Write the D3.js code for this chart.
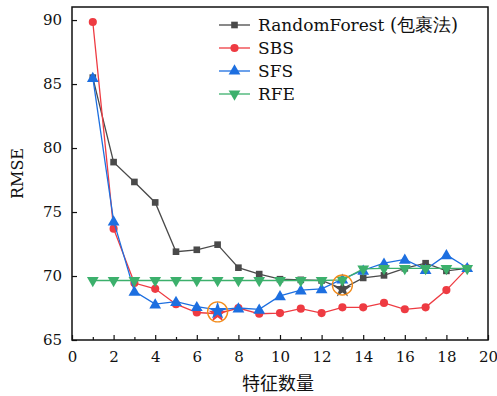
<!DOCTYPE html>
<html>
<head>
<meta charset="utf-8">
<script src="https://cdn.jsdelivr.net/npm/d3@7"></script>
<style>
  body { margin: 0; background: #fff; }
</style>
</head>
<body>
<svg id="chart" width="497" height="396"></svg>
<script>
// feature counts on the x axis
const features = d3.range(1, 20);

const randomForest = [85.5, 78.9, 77.35, 75.75, 71.9, 72.05, 72.45, 70.65, 70.15, 69.75, 69.7, 69.65, 69.0, 69.85, 70.05, 70.6, 71.0, 70.4, 70.6];
const sbs = [89.85, 73.7, 69.45, 69.0, 67.8, 67.15, 67.05, 67.5, 67.05, 67.1, 67.45, 67.1, 67.55, 67.55, 67.9, 67.4, 67.55, 68.9, 70.6];
const sfs = [85.5, 74.3, 68.8, 67.8, 68.0, 67.6, 67.35, 67.5, 67.4, 68.45, 68.9, 69.0, 69.75, 70.45, 71.0, 71.3, 70.5, 71.65, 70.65];
const rfe = [69.65, 69.65, 69.65, 69.65, 69.65, 69.65, 69.65, 69.65, 69.65, 69.65, 69.65, 69.65, 69.7, 70.55, 70.6, 70.6, 70.6, 70.6, 70.6];

const seriesNames = ["RandomForest", "SBS", "SFS", "RFE"];
const seriesNotes = [" (包裹法)", "", "", ""];
const seriesColors = ["#4a4a4a", "#ee3b42", "#1d6fe0", "#3cb06c"];
const seriesShapes = [d3.symbolSquare, d3.symbolCircle, d3.symbolTriangle, "down"];
const seriesData = [randomForest, sbs, sfs, rfe];

// best points marked with a star and an orange ring: [series index, feature count]
const bestPoints = [[1, 7], [2, 7], [0, 13]];

const xTicks = d3.range(0, 21, 2);
const yTicks = [65, 70, 75, 80, 85, 90];

const serif = "'DejaVu Serif', 'Liberation Serif', serif";
const cjk = "'Noto Sans CJK SC', sans-serif";

const svg = d3.select("#chart");
const m = { left: 72, top: 7, right: 488, bottom: 340 };

const x = d3.scaleLinear().domain([0, 20]).range([m.left, m.right]);
const y = d3.scaleLinear().domain([65, 91.02]).range([m.bottom, m.top]);

// axes, ticks inward
const xAxis = d3.axisBottom(x).tickValues(xTicks).tickSize(-5).tickPadding(11).tickFormat(d3.format("d"));
const gx = svg.append("g").attr("transform", `translate(0,${m.bottom})`).call(xAxis);
svg.append("g").attr("transform", `translate(0,${m.bottom})`)
  .call(d3.axisBottom(x).tickValues(d3.range(1, 20, 2)).tickSize(-3).tickFormat(""))
  .select(".domain").remove();

const yAxis = d3.axisLeft(y).tickValues(yTicks).tickSize(-5).tickPadding(10);
const gy = svg.append("g").attr("transform", `translate(${m.left},0)`).call(yAxis);

[gx, gy].forEach(g => {
  g.select(".domain").remove();
  g.selectAll("text").style("font-family", serif).style("font-size", "15px").attr("fill", "#111");
});
svg.selectAll(".tick line").attr("stroke", "#111").attr("stroke-width", 1.2);

svg.append("rect")
  .attr("x", m.left).attr("y", m.top)
  .attr("width", m.right - m.left).attr("height", m.bottom - m.top)
  .attr("fill", "none").attr("stroke", "#111").attr("stroke-width", 1.5);

function symbolPath(shape, size) {
  if (shape === "down") {
    return d3.symbol(d3.symbolTriangle, size)().toString();
  }
  return d3.symbol(shape, size)();
}
const symSize = [44, 52, 60, 60];

const line = d3.line().x((d, i) => x(features[i])).y(d => y(d));

seriesData.forEach((vals, s) => {
  const g = svg.append("g");
  g.append("path").datum(vals)
    .attr("d", line).attr("fill", "none")
    .attr("stroke", seriesColors[s]).attr("stroke-width", 1.3);
  g.selectAll("path.mk").data(vals).join("path")
    .attr("class", "mk")
    .attr("d", (d, i) => {
      const isBest = bestPoints.some(b => b[0] === s && b[1] === features[i]);
      return isBest ? d3.symbol(d3.symbolStar, 100)() : symbolPath(seriesShapes[s], symSize[s]);
    })
    .attr("transform", (d, i) => `translate(${x(features[i])},${y(d) + (s === 2 ? 1 : 0)})` + (seriesShapes[s] === "down" ? " rotate(180)" : ""))
    .attr("fill", seriesColors[s]);
});

// orange rings around the optimal points
svg.selectAll("circle.ring").data([[7, 67.2], [13, 69.3]]).join("circle")
  .attr("class", "ring")
  .attr("cx", d => x(d[0])).attr("cy", d => y(d[1]))
  .attr("r", 10).attr("fill", "none")
  .attr("stroke", "#f28c1c").attr("stroke-width", 1.4);

// legend
const legend = svg.append("g");
seriesNames.forEach((name, s) => {
  const ly = 25 + s * 23;
  legend.append("line").attr("x1", 219).attr("x2", 250).attr("y1", ly).attr("y2", ly)
    .attr("stroke", seriesColors[s]).attr("stroke-width", 1.3);
  legend.append("path")
    .attr("d", symbolPath(seriesShapes[s], symSize[s]))
    .attr("transform", `translate(234.5,${ly})` + (seriesShapes[s] === "down" ? " rotate(180)" : ""))
    .attr("fill", seriesColors[s]);
  const t = legend.append("text").attr("x", 258).attr("y", ly + 6)
    .style("font-family", serif).style("font-size", "17px").attr("fill", "#111");
  t.append("tspan").text(name);
  if (seriesNotes[s]) {
    t.append("tspan").style("font-size", "18px").text(seriesNotes[s]);
  }
});

// axis titles
svg.append("text")
  .attr("transform", `translate(23,${(m.top + m.bottom) / 2}) rotate(-90)`)
  .attr("text-anchor", "middle").style("font-family", serif).style("font-size", "16px").attr("fill", "#111")
  .text("RMSE");
svg.append("text")
  .attr("x", 278).attr("y", 390)
  .attr("text-anchor", "middle").style("font-size", "18px").attr("fill", "#111")
  .style("font-family", cjk)
  .text("特征数量");
</script>
</body>
</html>
